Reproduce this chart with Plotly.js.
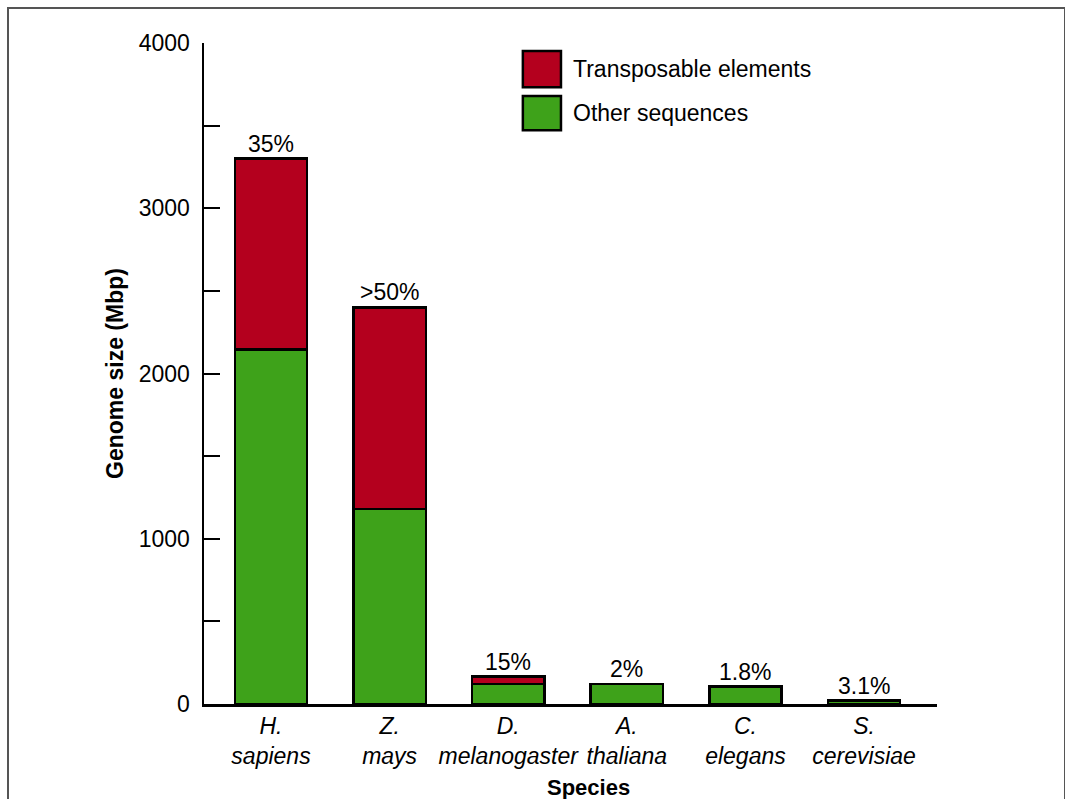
<!DOCTYPE html>
<html>
<head>
<meta charset="utf-8">
<script src="https://cdn.plot.ly/plotly-3.0.1.min.js"></script>
<style>
  html, body { margin: 0; padding: 0; background: #fff; overflow: hidden; }
  #chart { position: absolute; left: 0; top: 0; width: 1065px; height: 799px; }
  #frame { position: absolute; left: 7px; top: 7px; width: 1055px; height: 830px;
           border: 2px solid #555; pointer-events: none; }
</style>
</head>
<body>
<div id="chart"></div>
<div id="frame"></div>
<script>
// Data
const species = ["<i>H.<br>sapiens</i>", "<i>Z.<br>mays</i>", "<i>D.<br>melanogaster</i>",
                 "<i>A.<br>thaliana</i>", "<i>C.<br>elegans</i>", "<i>S.<br>cerevisiae</i>"];
const otherSeq = [2145, 1180, 120, 120, 105, 20];
const transposable = [1155, 1220, 45, 0, 0, 0];
const pctLabels = ["35%", ">50%", "15%", "2%", "1.8%", "3.1%"];
const seriesNames = ["Transposable elements", "Other sequences"];
const yTickVals = [0, 500, 1000, 1500, 2000, 2500, 3000, 3500, 4000];
const yTickText = ["0", "", "1000", "", "2000", "", "3000", "", "4000"];

const RED = "#b4001e";
const GREEN = "#3ea21a";
const FONT = "Liberation Sans, Arial, Helvetica, sans-serif";
const FS = 23;

const totals = otherSeq.map((v, i) => v + transposable[i]);

const traces = [
  { type: "bar", name: seriesNames[1], x: species, y: otherSeq,
    marker: { color: GREEN, line: { color: "#000", width: 2.5 } }, showlegend: false, hoverinfo: "skip" },
  { type: "bar", name: seriesNames[0], x: species, y: transposable,
    marker: { color: RED, line: { color: "#000", width: 2.5 } }, showlegend: false, hoverinfo: "skip" }
];

const annotations = species.map((s, i) => ({
  x: s, y: totals[i], xref: "x", yref: "y", text: pctLabels[i], showarrow: false,
  yanchor: "bottom", yshift: 0, font: { family: FONT, size: FS, color: "#000" }
}));

// x-axis title
annotations.push({ xref: "paper", yref: "paper", x: 0.524, y: -0.1256, yanchor: "middle",
  text: "<b>Species</b>", showarrow: false, font: { family: FONT, size: 22, color: "#000" } });

// custom legend
const legendItems = [
  { name: seriesNames[0], color: RED, y0: 0.933, y1: 0.988 },
  { name: seriesNames[1], color: GREEN, y0: 0.868, y1: 0.920 }
];
const shapes = [];
legendItems.forEach(it => {
  shapes.push({ type: "rect", xref: "paper", yref: "paper", x0: 0.435, x1: 0.487, y0: it.y0, y1: it.y1,
    fillcolor: it.color, line: { color: "#000", width: 2.5 } });
  annotations.push({ xref: "paper", yref: "paper", x: 0.500, y: (it.y0 + it.y1) / 2, xanchor: "left",
    yanchor: "middle", text: it.name, showarrow: false, font: { family: FONT, size: FS, color: "#000" } });
});

const layout = {
  width: 1065, height: 799,
  margin: { l: 204, r: 128, t: 43, b: 95, pad: 0 },
  paper_bgcolor: "#fff", plot_bgcolor: "#fff",
  barmode: "stack", bargap: 0.39,
  font: { family: FONT, color: "#000", size: FS },
  xaxis: {
    type: "category", range: [-0.565, 5.615], showgrid: false, zeroline: false,
    showline: true, linecolor: "#000", linewidth: 2.5, ticks: "",
    tickfont: { family: FONT, size: FS, color: "#000" }, fixedrange: true
  },
  yaxis: {
    range: [0, 4000], showgrid: false, zeroline: false,
    showline: true, linecolor: "#000", linewidth: 2.5,
    ticks: "inside", ticklen: 16, tickwidth: 2, tickcolor: "#000",
    tickvals: yTickVals, ticktext: yTickText, ticklabelstandoff: 7,
    tickfont: { family: FONT, size: FS, color: "#000" },
    title: { text: "<b>Genome size (Mbp)</b>", font: { family: FONT, size: 23, color: "#000" }, standoff: 9 },
    fixedrange: true
  },
  annotations: annotations,
  shapes: shapes
};

Plotly.newPlot("chart", traces, layout, { displayModeBar: false, staticPlot: true });
</script>
</body>
</html>
